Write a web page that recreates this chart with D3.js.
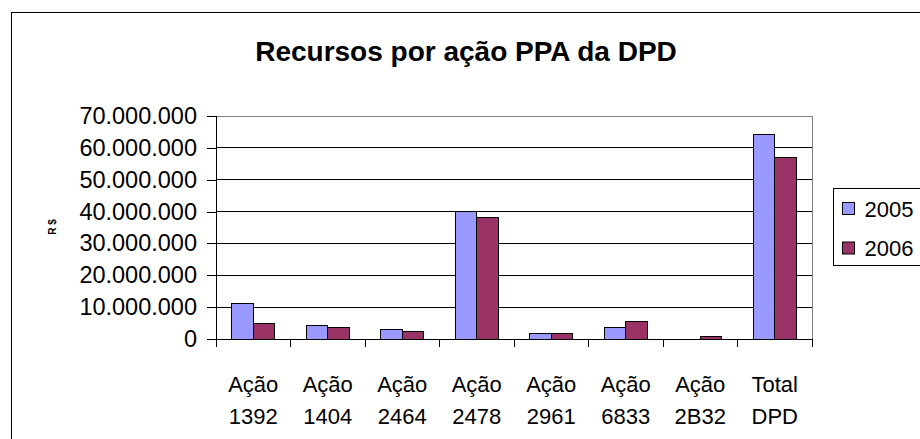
<!DOCTYPE html>
<html lang="pt">
<head>
  <meta charset="UTF-8">
  <title>Recursos por ação PPA da DPD</title>
  <script src="https://d3js.org/d3.v7.min.js"></script>
  <style>
    body {
      margin: 0;
      background: #fff;
      font-family: "Liberation Sans", Arial, sans-serif;
    }
    svg { display: block; }
    .grid line { stroke: #000; stroke-width: 1px; shape-rendering: crispEdges; }
    .axis path, .axis line { stroke: #000; shape-rendering: crispEdges; }
    .axis text { font-size: 22px; fill: #000; }
    .yaxis text { font-size: 23.5px; }
    .bar { stroke: #000; stroke-width: 1px; shape-rendering: crispEdges; }
  </style>
</head>
<body>
  <svg width="920" height="439"></svg>
  <script>
    const categories = ["Ação 1392", "Ação 1404", "Ação 2464", "Ação 2478", "Ação 2961", "Ação 6833", "Ação 2B32", "Total DPD"];
    const labelTop = ["Ação", "Ação", "Ação", "Ação", "Ação", "Ação", "Ação", "Total"];
    const labelBottom = ["1392", "1404", "2464", "2478", "2961", "6833", "2B32", "DPD"];
    const series = ["2005", "2006"];
    const values2005 = [11000000, 4200000, 2950000, 40100000, 1700000, 3600000, 0, 64300000];
    const values2006 = [4800000, 3600000, 2300000, 38200000, 1800000, 5500000, 750000, 57100000];
    const yTicks = [0, 10000000, 20000000, 30000000, 40000000, 50000000, 60000000, 70000000];
    const colors = ["#9999FF", "#993366"];

    const svg = d3.select("svg");
    const plot = { left: 216, right: 812, top: 116, bottom: 339 };

    const locale = d3.formatLocale({ decimal: ",", thousands: ".", grouping: [3], currency: ["R$", ""] });
    const fmt = locale.format(",d");

    // outer chart frame (runs off the right and bottom edge)
    svg.append("rect")
      .attr("x", 11.5).attr("y", 12.5)
      .attr("width", 960).attr("height", 460)
      .attr("fill", "none").attr("stroke", "#000");

    svg.append("text")
      .attr("x", 466).attr("y", 61)
      .attr("text-anchor", "middle")
      .style("font-size", "28px").style("font-weight", "bold")
      .text("Recursos por ação PPA da DPD");

    const x = d3.scaleBand().domain(categories).range([plot.left, plot.right]);
    const bw = x.bandwidth();
    const x1 = d3.scaleBand().domain(series)
      .range([bw * 0.75 / 3.5, bw - bw * 0.75 / 3.5]);
    const y = d3.scaleLinear().domain([0, 70000000]).range([plot.bottom, plot.top]);

    // gridlines
    svg.append("g").attr("class", "grid")
      .selectAll("line")
      .data(yTicks.slice(1, -1))
      .join("line")
      .attr("x1", plot.left).attr("x2", plot.right)
      .attr("y1", d => y(d)).attr("y2", d => y(d));

    // plot area top/right border
    svg.append("path")
      .attr("d", `M${plot.left},${y(70000000)}H${plot.right}V${plot.bottom}`)
      .attr("fill", "none").attr("stroke", "#808080")
      .attr("shape-rendering", "crispEdges");

    // bars
    const rows = categories.map((c, i) => ({ cat: c, vals: [values2005[i], values2006[i]] }));
    const groups = svg.append("g").selectAll("g")
      .data(rows).join("g")
      .attr("transform", d => `translate(${x(d.cat)},0)`);
    groups.selectAll("rect")
      .data(d => d.vals.map((v, j) => ({ s: series[j], v, j })).filter(d => d.v > 0))
      .join("rect")
      .attr("class", "bar")
      .attr("x", d => x1(d.s))
      .attr("width", x1.bandwidth())
      .attr("y", d => y(d.v))
      .attr("height", d => y(0) - y(d.v))
      .attr("fill", d => colors[d.j]);

    // y axis
    const yAxis = svg.append("g").attr("class", "axis yaxis")
      .attr("transform", `translate(${plot.left},0)`)
      .call(d3.axisLeft(y).tickValues(yTicks).tickFormat(fmt).tickSize(9).tickPadding(10));
    yAxis.select(".domain").attr("d", `M0,${plot.top}V${plot.bottom}`);

    // x axis with ticks between categories
    const xAxis = svg.append("g").attr("class", "axis")
      .attr("transform", `translate(0,${plot.bottom})`);
    xAxis.append("path").attr("d", `M${plot.left},0H${plot.right}`).attr("stroke", "#000");
    xAxis.selectAll("line.tick")
      .data(categories.map(c => x(c)).concat([plot.right]))
      .join("line")
      .attr("x1", d => d).attr("x2", d => d)
      .attr("y1", 0).attr("y2", 8);
    const lbl = xAxis.selectAll("text.lbl")
      .data(categories).join("text")
      .attr("class", "lbl")
      .attr("text-anchor", "middle")
      .attr("x", d => x(d) + bw / 2);
    lbl.append("tspan").attr("x", d => x(d) + bw / 2).attr("y", 53)
      .text((d, i) => labelTop[i]);
    lbl.append("tspan").attr("x", d => x(d) + bw / 2).attr("y", 85)
      .text((d, i) => labelBottom[i]);

    // y title
    svg.append("text")
      .attr("transform", "translate(56,227) rotate(-90)")
      .attr("text-anchor", "middle")
      .style("font-size", "10px").style("font-weight", "bold")
      .text("R $");

    // legend
    const legend = svg.append("g").attr("transform", "translate(833.5,188.5)");
    legend.append("rect")
      .attr("width", 120).attr("height", 77)
      .attr("fill", "#fff").attr("stroke", "#000");
    series.forEach((s, i) => {
      legend.append("rect")
        .attr("x", 9).attr("y", 14 + i * 39.5)
        .attr("width", 12).attr("height", 12)
        .attr("fill", colors[i]).attr("stroke", "#000");
      legend.append("text")
        .attr("x", 31).attr("y", 28 + i * 39.5)
        .style("font-size", "22px")
        .text(s);
    });
  </script>
</body>
</html>
